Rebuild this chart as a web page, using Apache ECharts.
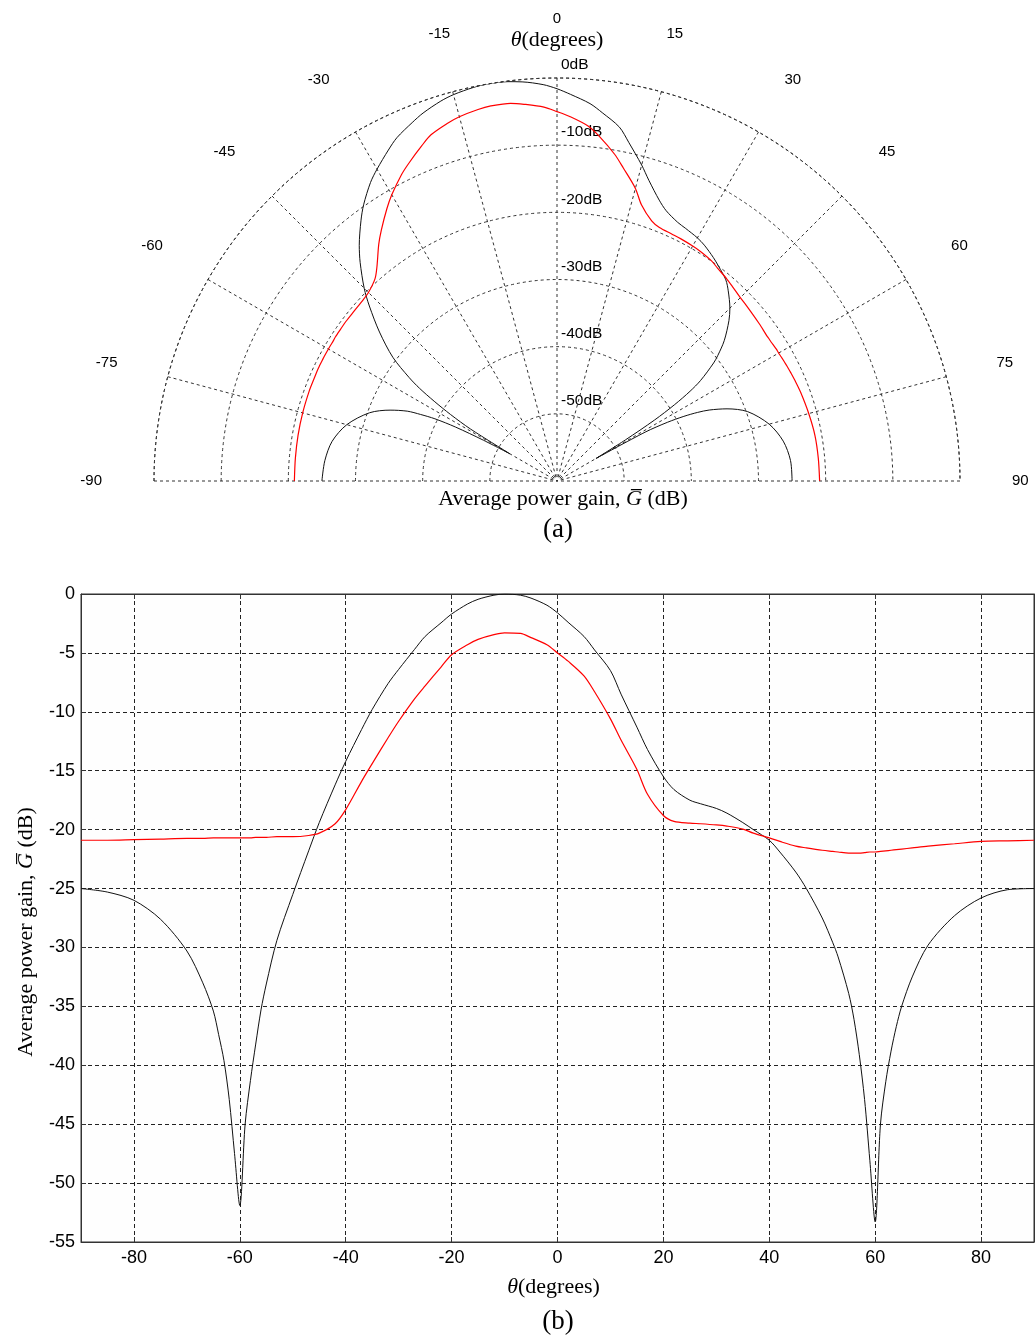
<!DOCTYPE html>
<html>
<head>
<meta charset="utf-8">
<script src="https://cdn.jsdelivr.net/npm/echarts@6/dist/echarts.min.js"></script>
<style>
html,body{margin:0;padding:0;background:#fff;}
#chart{width:1036px;height:1340px;}
</style>
</head>
<body>
<div id="chart"></div>
<script>
// Angle of arrival, degrees
const theta = [-90,-85,-80,-75,-70,-67,-65,-64,-63,-62,-61,-60,-59,-58,-57,-56,-55,-53,-50,-47,-45,
  -42,-40,-37,-35,-32,-30,-27,-25,-22,-20,-17,-15,-12,-10,-7,-5,-2,0,2,5,
  7,10,12,15,17,20,22,25,27,30,32,35,37,40,42,45,47,50,52,53,
  55,56,57,58,59,60,61,62,63,64,65,67,70,75,80,85,90];
// Black curve, average power gain (dB)
const gainBlack = [-25.0,-25.3,-26.0,-27.6,-30.3,-33.0,-35.4,-37.4,-39.6,-42.9,-47.5,-51.9,-45.0,-41.3,-38.2,-35.3,-33.1,-29.4,-25.5,-21.8,-19.4,
  -16.2,-14.2,-11.5,-9.8,-7.6,-6.4,-4.7,-3.6,-2.45,-1.7,-0.85,-0.45,-0.1,0,-0.1,-0.35,-0.95,-1.6,-2.4,-3.6,
  -4.75,-6.5,-8.5,-11.3,-13.2,-15.5,-16.6,-17.5,-17.8,-18.2,-18.6,-19.4,-20.0,-20.9,-21.9,-23.6,-25.0,-27.5,-29.6,-30.8,
  -33.9,-36.1,-39.1,-42.9,-48.1,-53.3,-45.0,-41.4,-38.8,-36.7,-35.0,-32.5,-29.8,-27.3,-25.8,-25.1,-25.0];
// Red curve, average power gain (dB)
const gainRed = [-20.9,-20.9,-20.85,-20.8,-20.75,-20.75,-20.7,-20.7,-20.7,-20.7,-20.7,-20.7,-20.7,-20.7,-20.65,-20.65,-20.65,-20.6,-20.6,-20.5,-20.3,
  -19.5,-18.3,-15.9,-14.4,-12.2,-10.8,-8.9,-7.8,-6.2,-5.15,-4.3,-3.85,-3.45,-3.3,-3.35,-3.7,-4.3,-5.0,-5.7,-6.95,
  -8.3,-10.6,-12.4,-14.9,-17.0,-18.8,-19.3,-19.45,-19.5,-19.6,-19.7,-19.95,-20.3,-20.7,-21.0,-21.4,-21.55,-21.75,-21.85,-21.9,
  -22.0,-22.0,-22.0,-21.95,-21.9,-21.9,-21.85,-21.8,-21.75,-21.7,-21.65,-21.55,-21.4,-21.2,-21.0,-20.95,-20.9];
// Axis ticks
const xTicks = [-80,-60,-40,-20,0,20,40,60,80];

const SANS = 'Liberation Sans, Arial, sans-serif';
const SERIF = 'Liberation Serif, Times New Roman, serif';
const dash = {type:[3,3], color:'#333', width:1};
const gridDash = {type:[4,3], color:'#222', width:1};
const serifRich = {
  i:{fontFamily:SERIF, fontStyle:'italic', fontSize:22, color:'#000'}
};

const polarBlack = theta.map((t,i)=>[gainBlack[i], t]);
const polarRed = theta.map((t,i)=>[gainRed[i], t]);
const cartBlack = theta.map((t,i)=>[t, gainBlack[i]]);
const cartRed = theta.map((t,i)=>[t, gainRed[i]]);

const frameLine = {show:true, onZero:false, lineStyle:{color:'#333'}};
const chart = echarts.init(document.getElementById('chart'), null, {renderer:'canvas'});
chart.setOption({
  backgroundColor:'#fff',
  animation:false,
  title:[
    {text:'{i|θ}(degrees)', left:557, top:40, padding:0, textAlign:'center', textVerticalAlign:'middle',
     textStyle:{fontFamily:SERIF, fontSize:22, fontWeight:'normal', color:'#000', rich:serifRich}},
    {text:'Average power gain, {i|G\u0305} (dB)', left:563, top:499, padding:0, textAlign:'center', textVerticalAlign:'middle',
     textStyle:{fontFamily:SERIF, fontSize:22, fontWeight:'normal', color:'#000', rich:serifRich}},
    {text:'(a)', left:558, top:530, padding:0, textAlign:'center', textVerticalAlign:'middle',
     textStyle:{fontFamily:SERIF, fontSize:27, fontWeight:'normal', color:'#000'}},
    {text:'(b)', left:558, top:1322, padding:0, textAlign:'center', textVerticalAlign:'middle',
     textStyle:{fontFamily:SERIF, fontSize:27, fontWeight:'normal', color:'#000'}}
  ],
  polar:[
    {center:[557,481], radius:403},
    {center:[557,481], radius:403}
  ],
  angleAxis:[
    {polarIndex:0, type:'value', min:-90, max:90, interval:15, startAngle:180, endAngle:0, clockwise:true,
     axisLine:{show:true, lineStyle:dash},
     axisTick:{show:false},
     axisLabel:{show:true, margin:52, fontFamily:SANS, fontSize:15, color:'#000'},
     splitLine:{show:true, lineStyle:dash}},
    {polarIndex:1, type:'value', min:0, max:360, startAngle:90, show:false}
  ],
  radiusAxis:[
    {polarIndex:0, type:'value', min:-60, max:0, interval:10,
     axisLine:{show:false}, axisTick:{show:false}, axisLabel:{show:false},
     splitLine:{show:true, lineStyle:dash}},
    {polarIndex:1, type:'value', min:-60, max:0, interval:10,
     axisLine:{show:false}, axisTick:{show:false}, splitLine:{show:false},
     axisLabel:{show:true, showMinLabel:false, formatter:'{value}dB', margin:-4, align:'left', verticalAlign:'bottom',
       padding:[0,0,5,0], fontFamily:SANS, fontSize:15.5, color:'#000'}}
  ],
  grid:[{left:81, right:2, top:594, bottom:98, show:true, borderColor:'#333', borderWidth:1, backgroundColor:'#fefefe'}],
  xAxis:[
    {gridIndex:0, type:'value', min:-90, max:90, position:'bottom',
     axisLine:frameLine,
     axisTick:{show:true, inside:true, length:5, customValues:xTicks, lineStyle:{color:'#333'}},
     axisLabel:{show:true, customValues:xTicks, margin:7, fontFamily:SANS, fontSize:18, color:'#000'},
     splitLine:{show:true, lineStyle:gridDash},
     name:'{i|θ}(degrees)', nameLocation:'middle', nameGap:34,
     nameTextStyle:{fontFamily:SERIF, fontSize:22, color:'#000', rich:serifRich, padding:[0,8,0,0]}},
    {gridIndex:0, type:'value', min:-90, max:90, position:'top',
     axisLine:frameLine,
     axisTick:{show:true, inside:true, length:5, customValues:xTicks, lineStyle:{color:'#333'}},
     axisLabel:{show:false}, splitLine:{show:false}}
  ],
  yAxis:[
    {gridIndex:0, type:'value', min:-55, max:0, interval:5, position:'left',
     axisLine:frameLine,
     axisTick:{show:true, inside:true, length:5, lineStyle:{color:'#333'}},
     axisLabel:{show:true, margin:6, fontFamily:SANS, fontSize:18, color:'#000'},
     splitLine:{show:true, lineStyle:gridDash},
     name:'Average power gain, {i|G\u0305} (dB)', nameLocation:'middle', nameGap:44,
     nameTextStyle:{fontFamily:SERIF, fontSize:22, color:'#000', rich:serifRich, padding:[0,28,0,0]}},
    {gridIndex:0, type:'value', min:-55, max:0, interval:5, position:'right',
     axisLine:frameLine,
     axisTick:{show:true, inside:true, length:5, lineStyle:{color:'#333'}},
     axisLabel:{show:false}, splitLine:{show:false}}
  ],
  series:[
    {name:'Black (polar)', type:'line', coordinateSystem:'polar', polarIndex:0, data:polarBlack,
     showSymbol:false, smooth:0.3, lineStyle:{color:'#111', width:1}, z:5},
    {name:'Red (polar)', type:'line', coordinateSystem:'polar', polarIndex:0, data:polarRed,
     showSymbol:false, smooth:0.3, lineStyle:{color:'#ff0000', width:1.2}, z:5},
    {name:'Black', type:'line', xAxisIndex:0, yAxisIndex:0, data:cartBlack,
     showSymbol:false, smooth:0.3, lineStyle:{color:'#111', width:1}, z:5},
    {name:'Red', type:'line', xAxisIndex:0, yAxisIndex:0, data:cartRed,
     showSymbol:false, smooth:0.3, lineStyle:{color:'#ff0000', width:1.2}, z:5}
  ]
});
</script>
</body>
</html>
